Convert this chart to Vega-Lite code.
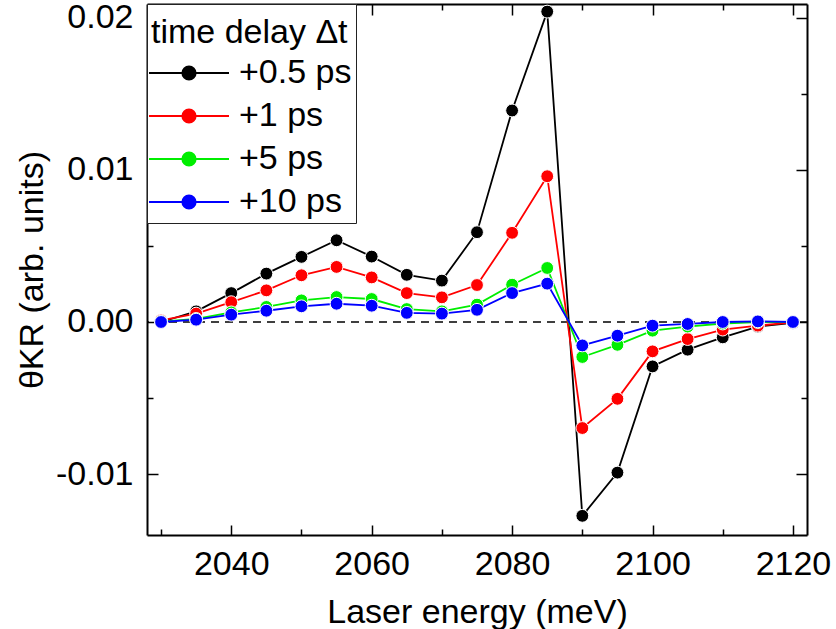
{
  "$schema": "https://vega.github.io/schema/vega-lite/v6.json",
  "width": 660,
  "height": 531,
  "autosize": {"type": "none"},
  "padding": {"left": 147, "top": 4, "right": 29, "bottom": 94},
  "config": {
    "font": "Liberation Sans",
    "view": {"stroke": null},
    "axis": {
      "domainColor": "black", "domainWidth": 2, "tickColor": "black", "tickWidth": 1.5,
      "labelColor": "black", "titleColor": "black", "grid": false,
      "labelFontSize": 34, "titleFontSize": 34, "titleFontWeight": "normal",
      "labelFont": "Liberation Sans", "titleFont": "Liberation Sans"
    }
  },
  "datasets": {
    "kerr": [
      {"E": 2030, "delay": "+0.5 ps", "v": 0.0},
      {"E": 2035, "delay": "+0.5 ps", "v": 0.0007},
      {"E": 2040, "delay": "+0.5 ps", "v": 0.0019},
      {"E": 2045, "delay": "+0.5 ps", "v": 0.00318},
      {"E": 2050, "delay": "+0.5 ps", "v": 0.00428},
      {"E": 2055, "delay": "+0.5 ps", "v": 0.00537},
      {"E": 2060, "delay": "+0.5 ps", "v": 0.0043},
      {"E": 2065, "delay": "+0.5 ps", "v": 0.0031},
      {"E": 2070, "delay": "+0.5 ps", "v": 0.00272},
      {"E": 2075, "delay": "+0.5 ps", "v": 0.0059},
      {"E": 2080, "delay": "+0.5 ps", "v": 0.0139},
      {"E": 2085, "delay": "+0.5 ps", "v": 0.0204},
      {"E": 2090, "delay": "+0.5 ps", "v": -0.01274},
      {"E": 2095, "delay": "+0.5 ps", "v": -0.0099},
      {"E": 2100, "delay": "+0.5 ps", "v": -0.00292},
      {"E": 2105, "delay": "+0.5 ps", "v": -0.00182},
      {"E": 2110, "delay": "+0.5 ps", "v": -0.00101},
      {"E": 2115, "delay": "+0.5 ps", "v": -0.0003},
      {"E": 2120, "delay": "+0.5 ps", "v": -0.00005},
      {"E": 2030, "delay": "+1 ps", "v": 0.0001},
      {"E": 2035, "delay": "+1 ps", "v": 0.00055},
      {"E": 2040, "delay": "+1 ps", "v": 0.0013},
      {"E": 2045, "delay": "+1 ps", "v": 0.00208},
      {"E": 2050, "delay": "+1 ps", "v": 0.00307},
      {"E": 2055, "delay": "+1 ps", "v": 0.00362},
      {"E": 2060, "delay": "+1 ps", "v": 0.00293},
      {"E": 2065, "delay": "+1 ps", "v": 0.0019},
      {"E": 2070, "delay": "+1 ps", "v": 0.00162},
      {"E": 2075, "delay": "+1 ps", "v": 0.00243},
      {"E": 2080, "delay": "+1 ps", "v": 0.00586},
      {"E": 2085, "delay": "+1 ps", "v": 0.00958},
      {"E": 2090, "delay": "+1 ps", "v": -0.00697},
      {"E": 2095, "delay": "+1 ps", "v": -0.00505},
      {"E": 2100, "delay": "+1 ps", "v": -0.00193},
      {"E": 2105, "delay": "+1 ps", "v": -0.00112},
      {"E": 2110, "delay": "+1 ps", "v": -0.0005},
      {"E": 2115, "delay": "+1 ps", "v": -0.00024},
      {"E": 2120, "delay": "+1 ps", "v": -0.00003},
      {"E": 2030, "delay": "+5 ps", "v": 0.00003},
      {"E": 2035, "delay": "+5 ps", "v": 0.0002},
      {"E": 2040, "delay": "+5 ps", "v": 0.00063},
      {"E": 2045, "delay": "+5 ps", "v": 0.00099},
      {"E": 2050, "delay": "+5 ps", "v": 0.00142},
      {"E": 2055, "delay": "+5 ps", "v": 0.00164},
      {"E": 2060, "delay": "+5 ps", "v": 0.00151},
      {"E": 2065, "delay": "+5 ps", "v": 0.00085},
      {"E": 2070, "delay": "+5 ps", "v": 0.0007},
      {"E": 2075, "delay": "+5 ps", "v": 0.00114},
      {"E": 2080, "delay": "+5 ps", "v": 0.00245},
      {"E": 2085, "delay": "+5 ps", "v": 0.00355},
      {"E": 2090, "delay": "+5 ps", "v": -0.0023},
      {"E": 2095, "delay": "+5 ps", "v": -0.0015},
      {"E": 2100, "delay": "+5 ps", "v": -0.00057},
      {"E": 2105, "delay": "+5 ps", "v": -0.0003},
      {"E": 2110, "delay": "+5 ps", "v": -0.0001},
      {"E": 2115, "delay": "+5 ps", "v": 0.0},
      {"E": 2120, "delay": "+5 ps", "v": 0.0},
      {"E": 2030, "delay": "+10 ps", "v": 0.0},
      {"E": 2035, "delay": "+10 ps", "v": 0.00015},
      {"E": 2040, "delay": "+10 ps", "v": 0.00048},
      {"E": 2045, "delay": "+10 ps", "v": 0.00074},
      {"E": 2050, "delay": "+10 ps", "v": 0.00103},
      {"E": 2055, "delay": "+10 ps", "v": 0.0012},
      {"E": 2060, "delay": "+10 ps", "v": 0.00107},
      {"E": 2065, "delay": "+10 ps", "v": 0.0006},
      {"E": 2070, "delay": "+10 ps", "v": 0.00055},
      {"E": 2075, "delay": "+10 ps", "v": 0.0008},
      {"E": 2080, "delay": "+10 ps", "v": 0.0019},
      {"E": 2085, "delay": "+10 ps", "v": 0.00252},
      {"E": 2090, "delay": "+10 ps", "v": -0.00154},
      {"E": 2095, "delay": "+10 ps", "v": -0.0009},
      {"E": 2100, "delay": "+10 ps", "v": -0.00024},
      {"E": 2105, "delay": "+10 ps", "v": -0.00013},
      {"E": 2110, "delay": "+10 ps", "v": 0.0},
      {"E": 2115, "delay": "+10 ps", "v": 0.00004},
      {"E": 2120, "delay": "+10 ps", "v": 0.0}
    ],
    "zero": [{"z": 0}]
  },
  "data": {"name": "kerr"},
  "layer": [
    {
      "data": {"name": "zero"},
      "mark": {"type": "rule", "color": "black", "strokeWidth": 1.5, "strokeDash": [8, 6]},
      "encoding": {
        "y": {"field": "z", "type": "quantitative", "scale": {"domain": [-0.014, 0.0209], "nice": false, "zero": false},
          "axis": {
            "orient": "left",
            "values": [-0.01, -0.005, 0, 0.005, 0.01, 0.015, 0.02],
            "format": ".2f",
            "labelExpr": "abs(round(datum.value*1000)) % 10 === 0 ? replace(datum.label, '−', '-') : ''",
            "tickSize": {"condition": {"test": "abs(round(datum.value*1000)) % 10 === 0", "value": -11}, "value": -6},
            "labelPadding": 25,
            "labelOverlap": false,
            "title": "θKR (arb. units)",
            "titlePadding": 6
          }
        }
      }
    },
    {
      "mark": {"type": "line", "strokeWidth": 1.8},
      "encoding": {
        "x": {"field": "E", "type": "quantitative", "scale": {"domain": [2028, 2122], "nice": false, "zero": false},
          "axis": {
            "orient": "bottom",
            "values": [2030, 2040, 2050, 2060, 2070, 2080, 2090, 2100, 2110, 2120],
            "labelExpr": "datum.value % 20 === 0 ? datum.label : ''",
            "format": "d",
            "tickSize": {"condition": {"test": "datum.value % 20 === 0", "value": -10}, "value": -6},
            "labelPadding": 22,
            "labelOverlap": false,
            "title": "Laser energy (meV)",
            "titlePadding": 10
          }
        },
        "y": {"field": "v", "type": "quantitative", "axis": null},
        "color": {
          "field": "delay", "type": "nominal",
          "scale": {"domain": ["+0.5 ps", "+1 ps", "+5 ps", "+10 ps"], "range": ["#000000", "#ff0000", "#00ee00", "#0000ff"]},
          "legend": {
            "title": "time delay Δt",
            "orient": "top-left",
            "offset": 0,
            "padding": 4,
            "strokeColor": "#222222",
            "fillColor": "white",
            "symbolType": "M-4,0H4M0.66,0A0.66,0.66,0,1,1,-0.66,0A0.66,0.66,0,1,1,0.66,0Z",
            "symbolSize": 400,
            "symbolStrokeWidth": 2,
            "symbolOffset": 21,
            "labelOffset": 33,
            "labelFontSize": 34,
            "labelFont": "Liberation Sans",
            "labelColor": "black",
            "labelLimit": 400,
            "titleLimit": 400,
            "titleFontSize": 34,
            "titleFont": "Liberation Sans",
            "titleFontWeight": "normal",
            "titleColor": "black",
            "titleBaseline": "line-top",
            "titleLineHeight": 50,
            "titlePadding": 14,
            "rowPadding": 9,
            "encode": {
              "symbols": {"update": {"fill": {"scale": "color", "field": "value"}, "stroke": {"scale": "color", "field": "value"}, "opacity": {"value": 1}}}
            }
          }
        },
        "order": {"field": "E"}
      }
    },
    {
      "mark": {"type": "point", "filled": true, "size": 165, "opacity": 1, "stroke": "white", "strokeWidth": 1},
      "encoding": {
        "x": {"field": "E", "type": "quantitative", "axis": null},
        "y": {"field": "v", "type": "quantitative", "axis": null},
        "fill": {"field": "delay", "type": "nominal", "scale": {"domain": ["+0.5 ps", "+1 ps", "+5 ps", "+10 ps"], "range": ["#000000", "#ff0000", "#00ee00", "#0000ff"]}, "legend": null}
      }
    },
    {
      "mark": {"type": "point", "opacity": 0},
      "encoding": {
        "x": {"field": "E", "type": "quantitative",
          "axis": {
            "orient": "top", "labels": false, "title": null,
            "values": [2030, 2040, 2050, 2060, 2070, 2080, 2090, 2100, 2110, 2120],
            "tickSize": {"condition": {"test": "datum.value % 20 === 0", "value": -11}, "value": -6}
          }
        },
        "y": {"field": "v", "type": "quantitative",
          "axis": {
            "orient": "right", "labels": false, "title": null,
            "values": [-0.01, -0.005, 0, 0.005, 0.01, 0.015, 0.02],
            "tickSize": {"condition": {"test": "abs(round(datum.value*1000)) % 10 === 0", "value": -11}, "value": -6}
          }
        }
      }
    }
  ],
  "resolve": {"axis": {"x": "independent", "y": "independent"}}
}
